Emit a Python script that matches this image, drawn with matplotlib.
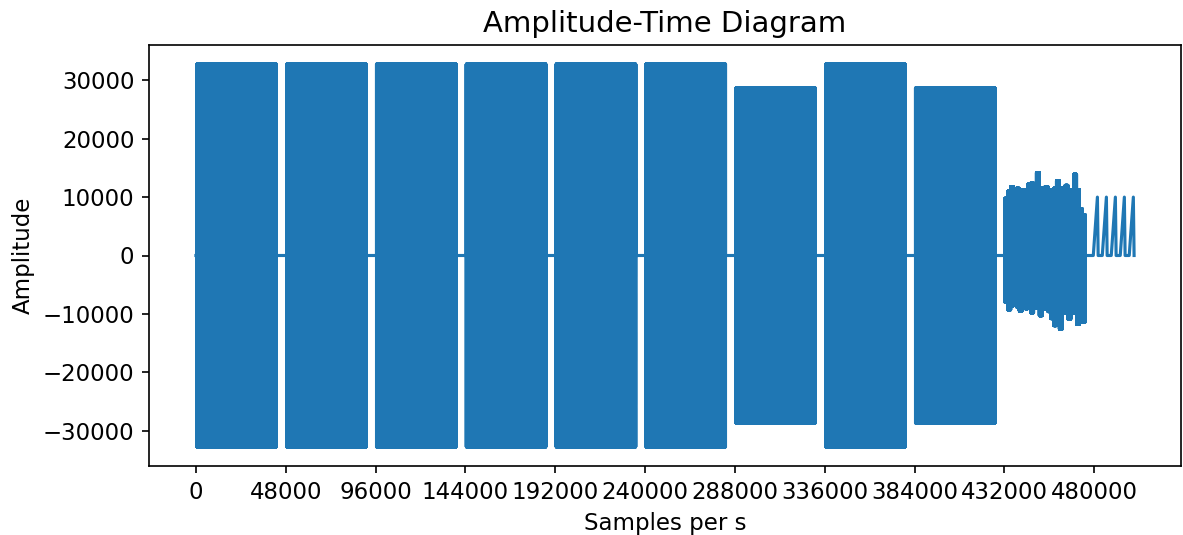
import numpy as np
import matplotlib
matplotlib.use("Agg")
import matplotlib.pyplot as plt

plt.rcParams['path.simplify'] = False

# ---- data ----
tone_starts = [500, 48500, 96500, 144500, 192500, 240500, 288500, 336500, 384500]
tone_amplitudes = [32767, 32767, 32767, 32767, 32767, 32767, 28670, 32767, 28670]
tone_length = 42500

noise_start = 432300
noise_step = 1530
noise_upper = [9800, 11000, 11800, 11200, 11500, 10800, 11300, 11000, 12200, 12400,
               11200, 14200, 11600, 11000, 11800, 11300, 10900, 11500, 12800, 11600,
               11000, 12000, 11200, 10900, 13900, 11300, 8000, 7000]
noise_lower = [-8000, -9300, -8600, -8000, -8800, -9500, -8700, -9100, -8800, -9800,
               -9000, -8800, -10300, -9200, -9000, -9600, -10800, -12000, -9500, -12600,
               -9900, -9100, -10900, -9300, -9800, -11800, -10400, -11400]

pulse_peaks = [481700, 486500, 491300, 496100, 500900]
pulse_heights = [10000, 10000, 10000, 10000, 10000]
pulse_rise = 2200
pulse_fall = 400

xtick_values = [0, 48000, 96000, 144000, 192000, 240000, 288000, 336000, 384000, 432000, 480000]

# ---- build the waveform polyline ----
fine = 20
xs = [np.array([0.0])]
ys = [np.array([0.0])]
for s, a in zip(tone_starts, tone_amplitudes):
    t = np.arange(s, s + tone_length, fine, dtype=float)
    v = np.where(np.arange(len(t)) % 2 == 0, a, -a).astype(float)
    xs += [np.array([s]), t, np.array([s + tone_length])]
    ys += [np.array([0.0]), v, np.array([0.0])]

xs.append(np.array([float(noise_start)]))
ys.append(np.array([0.0]))
for i, (u, l) in enumerate(zip(noise_upper, noise_lower)):
    p = noise_start + i * noise_step
    t = np.arange(p, p + noise_step, fine, dtype=float)
    v = np.where(np.arange(len(t)) % 2 == 0, u, l).astype(float)
    xs.append(t)
    ys.append(v)
noise_end = noise_start + len(noise_upper) * noise_step
xs.append(np.array([float(noise_end)]))
ys.append(np.array([0.0]))

for p, h in zip(pulse_peaks, pulse_heights):
    xs.append(np.array([p - pulse_rise, p, p + pulse_fall], dtype=float))
    ys.append(np.array([0.0, h, 0.0]))

x = np.concatenate(xs)
y = np.concatenate(ys)

# ---- plot ----
fig = plt.figure(figsize=(1183 / 150, 535 / 150), dpi=150)
ax = fig.add_subplot(111)
fig.subplots_adjust(left=149 / 1183, right=1181 / 1183, top=1 - 45 / 535, bottom=1 - 466 / 535)
ax.plot(x, y, color="#1f77b4")
ax.set_xticks(xtick_values)
ax.tick_params(labelsize=11)
ax.set_title("Amplitude-Time Diagram", fontsize=14)
ax.set_xlabel("Samples per s", fontsize=11)
ax.set_ylabel("Amplitude", fontsize=11)
fig.savefig("out.png", dpi=150)
